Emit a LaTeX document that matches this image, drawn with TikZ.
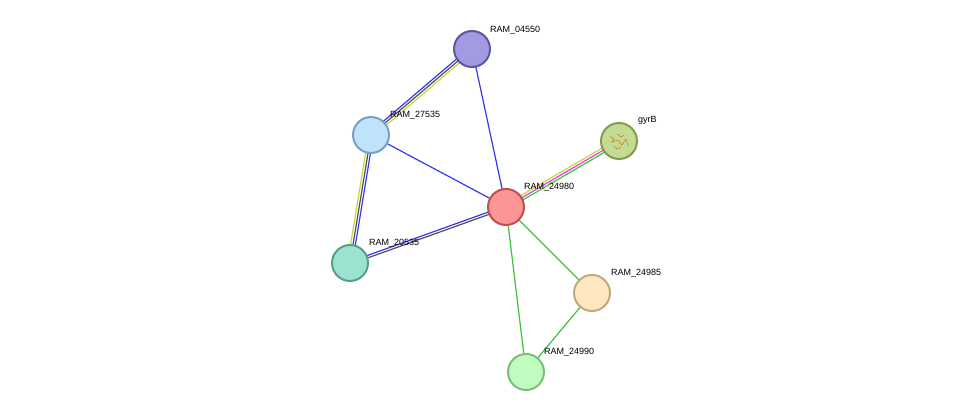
\documentclass[tikz,border=0pt]{standalone}
\usepackage{fontspec}
\setmainfont{Liberation Sans}
\usetikzlibrary{calc}
\definecolor{eb}{HTML}{3636F0}
\definecolor{ey}{HTML}{C4D63C}
\definecolor{ek}{HTML}{505050}
\definecolor{eg}{HTML}{3CC43C}
\definecolor{em}{HTML}{E040E0}
\tikzset{
  prot/.style={circle,minimum size=36pt,inner sep=0pt,line width=2pt},
  lab/.style={anchor=south west,inner sep=0pt,font=\fontsize{9}{10}\selectfont},
  e/.style={line width=1.2pt}
}
\newcommand{\oedge}[4]{\draw[e,#4] ($(#1)!#3!90:(#2)$) -- ($(#2)!#3!-90:(#1)$);}
\begin{document}
\begin{tikzpicture}[x=1pt,y=-1pt]
\useasboundingbox (0,0) rectangle (975,417);
\coordinate (a) at (472,49);
\coordinate (b) at (371,135);
\coordinate (g) at (619,141);
\coordinate (c) at (506,207);
\coordinate (d) at (350,263);
\coordinate (f) at (592,293);
\coordinate (h) at (526,372);
% edges
\oedge{a}{b}{-2.4pt}{eb}\oedge{a}{b}{0pt}{ek}\oedge{a}{b}{2.4pt}{ey}
\oedge{b}{d}{2.4pt}{eb}\oedge{b}{d}{0pt}{ek}\oedge{b}{d}{-2.4pt}{ey}
\oedge{c}{d}{-1.2pt}{eb}\oedge{c}{d}{1.2pt}{ek}
\oedge{c}{g}{2.4pt}{ey}\oedge{c}{g}{0pt}{em}\oedge{c}{g}{-2.4pt}{eg}
\draw[e,eb] (b)--(c);
\draw[e,eb] (a)--(c);
\draw[e,eg] (c)--(f);
\draw[e,eg] (c)--(h);
\draw[e,eg] (f)--(h);
% nodes
\node[prot,fill={rgb,255:red,162;green,154;blue,227},draw={rgb,255:red,95;green,87;blue,160}] (n1) at (a) {};
\node[prot,fill={rgb,255:red,192;green,226;blue,250},draw={rgb,255:red,123;green,161;blue,194}] (n2) at (b) {};
\node[prot,fill={rgb,255:red,195;green,220;blue,147},draw={rgb,255:red,127;green,157;blue,80}] (n3) at (g) {};
\node[prot,fill={rgb,255:red,252;green,150;blue,150},draw={rgb,255:red,192;green,79;blue,79}] (n4) at (c) {};
\node[prot,fill={rgb,255:red,157;green,225;blue,209},draw={rgb,255:red,87;green,160;blue,141}] (n5) at (d) {};
\node[prot,fill={rgb,255:red,253;green,232;blue,192},draw={rgb,255:red,195;green,170;blue,122}] (n6) at (f) {};
\node[prot,fill={rgb,255:red,192;green,251;blue,192},draw={rgb,255:red,125;green,189;blue,125}] (n7) at (h) {};
\draw[brown!80!orange,line width=0.6pt] (610,136)--(614,139)--(612,142)--(618,140)--(622,145)--(626,139)--(628,146) (613,146)--(617,149)--(621,147) (617,134)--(621,137)--(624,135);
% labels
\node[lab] at (490,34) {RAM\_04550};
\node[lab] at (390,119) {RAM\_27535};
\node[lab] at (638,125) {gyrB};
\node[lab] at (524,191) {RAM\_24980};
\node[lab] at (369,247) {RAM\_20535};
\node[lab] at (611,277) {RAM\_24985};
\node[lab] at (544,356) {RAM\_24990};
\end{tikzpicture}
\end{document}
